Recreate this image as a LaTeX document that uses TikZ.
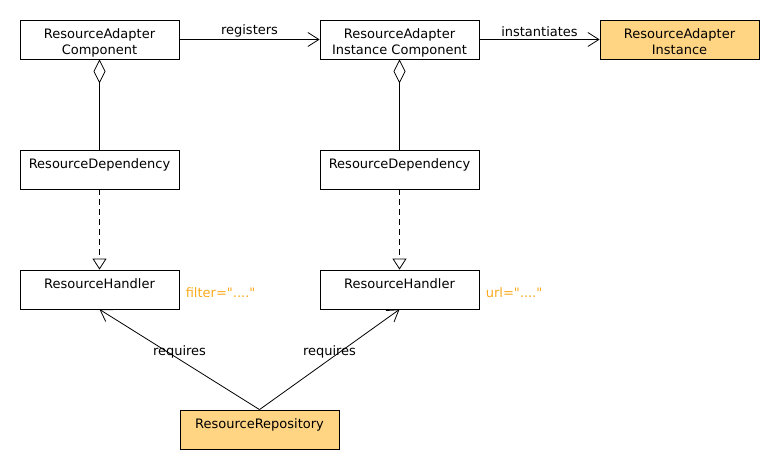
\documentclass[tikz,border=0pt]{standalone}
\usepackage{fontspec}
\setmainfont{DejaVu Sans}
\usetikzlibrary{
  arrows.meta,
  positioning,
}
\definecolor{hotfill}{RGB}{255,212,130}
\definecolor{tagtext}{RGB}{250,170,30}
\tikzset{
  >={Straight Barb[length=11pt,width=14pt]},
}
\newcommand{\clstop}{\rule{0pt}{18pt}}

\begin{document}
\begin{tikzpicture}[x=1pt, y=-1pt, line width=0.8pt,
    every node/.style={font=\fontsize{13}{16}\selectfont},
    cls/.style={draw, minimum width=159pt, minimum height=39pt,
      inner sep=0pt, align=center},
    hot/.style={cls, fill=hotfill},
    tag/.style={text=tagtext, inner sep=0pt},
  ]
      \useasboundingbox (0,0) rectangle (780,470);
      \node[cls] (RAC)  at (99.5,39.5)  {\clstop ResourceAdapter\\Component\strut};
      \node[cls] (RAIC) at (399.5,39.5) {\clstop ResourceAdapter\\Instance Component\strut};
      \node[hot] (RAI)  at (679.5,39.5) {\clstop ResourceAdapter\\Instance\strut};
      \node[cls] (RD1)  at (99.5,169.5)  {\clstop ResourceDependency\\\strut};
      \node[cls] (RD2)  at (399.5,169.5) {\clstop ResourceDependency\\\strut};
      \node[cls] (RH1)  at (99.5,289.5)  {\clstop ResourceHandler\\\strut};
      \node[cls] (RH2)  at (399.5,289.5) {\clstop ResourceHandler\\\strut};
      \node[hot] (RR)   at (259.5,429.5) {\clstop ResourceRepository\\\strut};

      \node[tag, right=6pt of RH1, yshift=-3.5pt] (F1) {filter=\textquotedbl....\textquotedbl};
      \node[tag, right=6pt of RH2, yshift=-3.5pt] (U2) {url=\textquotedbl....\textquotedbl};

      \draw[->] (RAC) -- node[above, inner sep=2pt] {registers} (RAIC);
      \draw[->] (RAIC) -- node[above, inner sep=2pt] {instantiates} (RAI);

      \foreach \top/\low in {RAC/RD1, RAIC/RD2} {
        \draw[{Diamond[open,length=24pt,width=12pt]}-] (\top) -- (\low);
      }
      \foreach \dep/\hnd in {RD1/RH1, RD2/RH2} {
        \draw[dash pattern=on 6pt off 4pt,
          -{Triangle[open,length=11pt,width=14pt]}] (\dep) -- (\hnd);
      }

      \draw[->] (RR.north) -- node[midway, above, inner sep=1pt] {requires} (RH1.south);
      \draw[->] (RR.north) -- node[midway, above, inner sep=1pt] {requires} (RH2.south);
    \end{tikzpicture}
\end{document}
